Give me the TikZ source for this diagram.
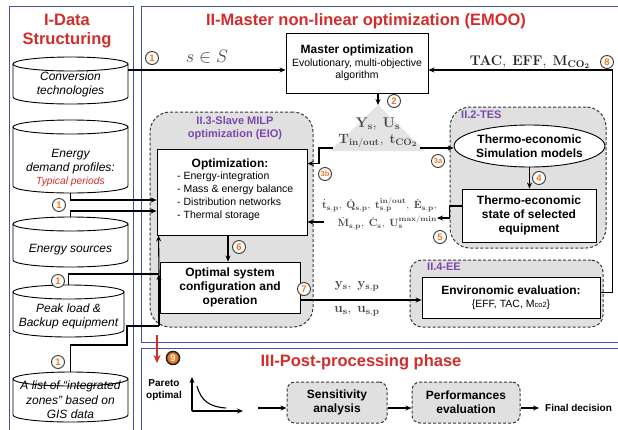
\RequirePackage{fix-cm}
\documentclass[tikz,border=0pt]{standalone}
\usepackage[no-math]{fontspec}
\setmainfont{Liberation Sans}
\usetikzlibrary{arrows.meta,shapes.geometric,calc}

\definecolor{panelblue}{RGB}{70,80,170}
\definecolor{titlered}{RGB}{210,45,45}
\definecolor{subpurple}{RGB}{125,70,175}
\definecolor{numorange}{RGB}{240,120,30}
\definecolor{boxgray}{RGB}{224,224,224}
\definecolor{trigray}{RGB}{228,228,228}
\definecolor{dashgray}{RGB}{55,55,55}
\definecolor{mathgray}{RGB}{70,70,70}

% database cylinder: name, left x, right x, top ellipse centre y, bottom ellipse centre y
\newcommand\dbshape[5]{%
  \path[draw=black,line width=0.9pt,fill=white]
    (#2,#4) -- (#2,#5) arc[start angle=180,end angle=0,x radius={(#3-#2)/2},y radius=7] -- (#3,#4) -- cycle;
  \path[draw=black,line width=0.9pt,fill=white]
    ({(#2+#3)/2},#4) ellipse[x radius={(#3-#2)/2},y radius=7];
  \node[minimum width={#3-#2},minimum height={#5-#4+14},inner sep=0pt,outer sep=0pt]
    (#1) at ({(#2+#3)/2},{(#4+#5)/2}) {};
}

\begin{document}
\begin{tikzpicture}[x=1pt,y=-1pt,
  panel/.style={draw=panelblue,line width=0.9pt},
  maintitle/.style={text=titlered,font=\fontsize{16.5}{19}\selectfont\bfseries,align=center,inner sep=0pt},
  zonetitle/.style={text=subpurple,font=\fontsize{11}{12.5}\selectfont\bfseries,align=center,inner sep=0pt},
  zone/.style={draw=dashgray,dash pattern=on 3pt off 2pt,line width=1pt,fill=boxgray,rounded corners=#1},
  zone/.default=18pt,
  stepbox/.style={draw=black,line width=0.9pt,fill=white,align=center,inner sep=1pt},
  boldtext/.style={font=\fontsize{12}{14}\selectfont\bfseries},
  wire/.style={draw=black,line width=1.1pt},
  flow/.style={wire,-{Stealth[length=6pt,width=5pt]}},
  redflow/.style={draw=titlered,line width=1.8pt,-{Stealth[length=8pt,width=7pt]}},
  badge/.style={circle,draw=dashgray,line width=0.9pt,fill=white,inner sep=0pt,minimum size=13pt,
    text=numorange,font=\fontsize{9.5}{9.5}\selectfont\bfseries},
  dbtext/.style={font=\fontsize{12}{13.5}\selectfont\itshape,align=center,inner sep=0pt},
  mathlab/.style={text=mathgray,inner sep=0pt},
  smalltext/.style={font=\fontsize{10}{12}\selectfont\bfseries,inner sep=0pt,align=center}
]
\useasboundingbox (0,0) rectangle (618,429);
\fill[white] (0,0) rectangle (618,429);

% ---------- phase panels ----------
\draw[panel] (9,6) rectangle (133,440);
\draw[panel] (141,6) rectangle (622,342);
\draw[panel] (141,348) rectangle (622,440);

\node[maintitle] (t1) at (67,31) {I-Data\\Structuring};
\node[maintitle] (t2) at (366,21) {II-Master non-linear optimization (EMOO)};
\node[maintitle] (t3) at (361,362) {III-Post-processing phase};

% ---------- data bases ----------
\dbshape{conv}{13}{128}{64}{97}
\dbshape{dem}{13}{128}{127}{186}
\dbshape{src}{13}{128}{224}{260}
\dbshape{peak}{13}{124}{292}{330}
\dbshape{gis}{13}{128}{379}{415}

\node[dbtext] (convtxt) at (70.5,84.5) {Conversion\\technologies};
\node[dbtext] (demtxt) at (70.5,168) {Energy\\demand profiles:\\{\color{titlered}\fontsize{10.3}{12}\selectfont Typical periods}};
\node[dbtext] (srctxt) at (70.5,250) {Energy sources};
\node[dbtext] (peaktxt) at (68.5,316.5) {Peak load \&\\Backup equipment};
\node[dbtext,font=\fontsize{12}{14.5}\selectfont\itshape] (gistxt) at (70.5,400) {A list of ``integrated\\zones'' based on\\GIS data};

% ---------- grouped sub-problems ----------
\node[zone=20pt,minimum width=163pt,minimum height=215pt] (slave) at (231.5,219.5) {};
\node[zone=20pt,minimum width=156pt,minimum height=141pt] (tes) at (528,177.5) {};
\node[zone=12pt,minimum width=193pt,minimum height=67pt] (ee) at (506.5,293.5) {};

\node[zonetitle] (slavetitle) at (235,128) {II.3-Slave MILP\\optimization (EIO)};
\node[zonetitle,anchor=west] (testitle) at (461,115) {II.2-TES};
\node[zonetitle,anchor=west] (eetitle) at (427,267) {II.4-EE};

% ---------- process boxes ----------
\node[stepbox,minimum width=142pt,minimum height=60pt,font=\fontsize{10.5}{12.5}\selectfont] (master) at (357,63)
  {{\fontsize{12}{14}\selectfont\bfseries Master optimization}\\Evolutionary, multi-objective\\algorithm};

\node[stepbox,minimum width=150pt,minimum height=86pt] (opt) at (232,192) {};
\node[boldtext,inner sep=0pt] (opttitle) at (230,164) {Optimization:};
\node[font=\fontsize{10.5}{13}\selectfont,align=left,anchor=west,inner sep=0pt] (optlist) at (177,196)
  {- Energy-integration\\- Mass \& energy balance\\- Distribution networks\\- Thermal storage};

\node[stepbox,boldtext,minimum width=140pt,minimum height=51pt] (optimal) at (230,287.5)
  {Optimal system\\configuration and\\operation};

\node[ellipse,draw=black,line width=0.9pt,fill=white,align=center,boldtext,inner sep=0pt,
  minimum width=145pt,minimum height=42pt] (tesm) at (529.5,146) {Thermo-economic\\Simulation models};
\node[stepbox,boldtext,minimum width=134pt,minimum height=53pt] (state) at (529,215.5)
  {Thermo-economic\\state of selected\\equipment};

\node[stepbox,minimum width=178pt,minimum height=41pt,font=\fontsize{10.5}{13}\selectfont] (eeval) at (511,297.5)
  {{\fontsize{12}{14}\selectfont\bfseries Environomic evaluation:}\\\{EFF, TAC, M{\fontsize{7.5}{8}\selectfont co2}\}};

% ---------- decision variables passed down ----------
\coordinate (apex) at (378,105);
\coordinate (triL) at (333,148);
\coordinate (triR) at (420,148);
\fill[trigray] (apex) -- (330,151) -- (425,151) -- cycle;

\node[mathlab,font=\fontsize{18}{18}\selectfont] (sinS) at (207,57) {$s\in S$};
\node[mathlab,text=black!85,font=\fontsize{14}{14}\selectfont] (objlab) at (530,62)
  {$\mathbf{TAC},\ \mathbf{EFF},\ \mathbf{M}_{\mathbf{CO_2}}$};
\node[mathlab,font=\fontsize{14}{14}\selectfont] (yulab) at (378,124) {$\mathbf{Y_s},\ \mathbf{U_s}$};
\node[mathlab,font=\fontsize{13.5}{13.5}\selectfont] (ttlab) at (378,141) {$\mathbf{T_{in/out}},\ \mathbf{t_{CO_2}}$};
\node[mathlab,font=\fontsize{13.5}{13.5}\selectfont] (ylab) at (357,286) {$\mathbf{y_s},\ \mathbf{y_{s,p}}$};
\node[mathlab,font=\fontsize{13.5}{13.5}\selectfont] (ulab) at (357,311) {$\mathbf{u_s},\ \mathbf{u_{s,p}}$};
\node[mathlab,font=\fontsize{10.5}{18}\selectfont,align=right,anchor=east] (statelab) at (437,214)
  {$\dot{\mathbf{t}}_{\mathbf{s,p}},\ \dot{\mathbf{Q}}_{\mathbf{s,p}},\ \mathbf{t}^{\mathbf{in/out}}_{\mathbf{s,p}},\ \dot{\mathbf{E}}_{\mathbf{s,p}},$\\
   $\dot{\mathbf{M}}_{\mathbf{s,p}},\ \dot{\mathbf{C}}_{\mathbf{s}},\ \mathbf{U}^{\mathbf{max/min}}_{\mathbf{s}}$};

% ---------- connectors ----------
\coordinate (mIn) at ([yshift=-7pt]master.west);
\coordinate (mFb) at ([yshift=-7pt]master.east);
\coordinate (inDem) at ([yshift=-8pt]opt.west);
\coordinate (inSrc) at ([yshift=-19pt]opt.west);
\coordinate (in3b) at ([yshift=-15pt]opt.north east);
\coordinate (in5b) at ([yshift=-30pt]opt.east);
\coordinate (feedTop) at ([xshift=2pt]opt.south west);
\coordinate (feedMid) at (159,274);
\coordinate (feedLow) at (159,326);
\coordinate (gisJog) at (127,345);
\coordinate (o7) at ([yshift=-12.5pt]optimal.east);

\draw[flow] (conv.east |- mIn) -- (mIn);
\draw[flow] (master.south -| apex) -- (apex);
\draw[flow] (triL) -- ++(-14,0) |- (in3b);
\draw[flow] (triR) -- (triR -| tesm.west);
\draw[flow] (tesm.south) -- (tesm.south |- state.north);
\draw[flow] ([yshift=9.5pt]state.west) -- ++(-12,0) |- ([yshift=-4pt]statelab.east);
\draw[flow] ([xshift=2pt]statelab.west |- in5b) -- (in5b);
\draw[flow] ([xshift=-4pt]opt.south) -- ([xshift=-4pt]opt.south |- optimal.north);
\draw[flow] (o7) -- (o7 -| eeval.west);
\draw[flow] ([yshift=5pt]eeval.east) -- ++(12,0) |- (mFb);

\draw[flow] (dem.south) |- (inDem);
\draw[flow] (src.north) |- (inSrc);
\draw[wire] (peak.north) |- (feedMid);
\draw[wire] (gis.north) |- (gisJog) |- (feedLow);
\draw[flow] (feedLow) -- (feedMid);
\draw[flow] (feedMid) -- (feedTop);

% ---------- step numbers ----------
\node[badge] (n1a) at (152,58) {1};
\node[badge] (n1b) at (59,205) {1};
\node[badge] (n1c) at (58,281) {1};
\node[badge] (n1d) at (58,362) {1};
\node[badge] (n2) at (394,101) {2};
\node[badge,font=\fontsize{7.5}{7.5}\selectfont\bfseries] (n3a) at (438,161) {3a};
\node[badge,font=\fontsize{7.5}{7.5}\selectfont\bfseries] (n3b) at (325,174) {3b};
\node[badge] (n4) at (539,178) {4};
\node[badge] (n5) at (440,237) {5};
\node[badge] (n6) at (239,247) {6};
\node[badge] (n7) at (304,289) {7};
\node[badge] (n8) at (607,62) {8};

% ---------- post-processing ----------
\coordinate (redTop) at (157,335);
\coordinate (redBot) at (157,363);
\draw[redflow] (redTop) -- (redBot);
\node[badge,fill=numorange,draw=black!85,line width=1.6pt,text=white] (n9) at (173,358) {9};

\node[smalltext] (pareto) at (164,390) {Pareto\\optimal};
\coordinate (orig) at (192,411);
\draw[flow] (orig) -- ++(0,-34);
\draw[flow] (orig) -- ++(51,0);
\draw[wire] (197,386) .. controls (201,401) and (210,407) .. (226,408);

\node[zone=8pt,boldtext,align=center,minimum width=100pt,minimum height=41pt] (sens) at (337,402.5) {Sensitivity\\analysis};
\node[zone=8pt,boldtext,align=center,minimum width=108pt,minimum height=41pt] (perf) at (466,402.5) {Performances\\evaluation};
\node[smalltext,anchor=west] (fin) at (545,408) {Final decision};

\coordinate (postIn) at (258,408);
\draw[flow] (postIn) -- (postIn -| sens.west);
\draw[flow] (sens.east |- postIn) -- (perf.west |- postIn);
\draw[flow] (perf.east |- postIn) -- ([xshift=-6pt]fin.west |- postIn);
\end{tikzpicture}
\end{document}
